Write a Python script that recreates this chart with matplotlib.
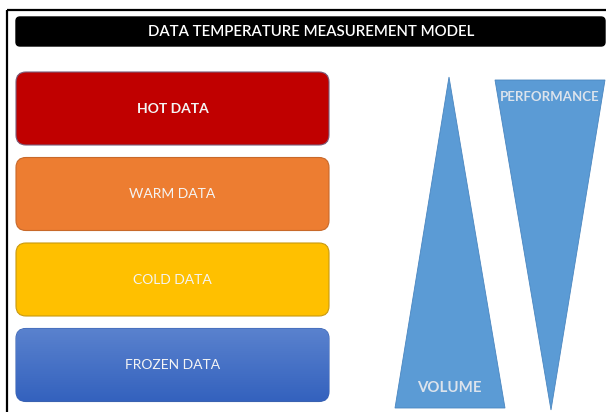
import numpy as np
import matplotlib.pyplot as plt
from matplotlib.colors import LinearSegmentedColormap
from matplotlib.patches import FancyBboxPatch, Polygon, Rectangle

# Data tiers shown on the left, top to bottom
tiers = ['HOT DATA', 'WARM DATA', 'COLD DATA', 'FROZEN DATA']
tier_colors = ['#C00000', '#ED7D31', '#FFC000', '#4472C4']
tier_edges = ['#7A5C7A', '#C8692A', '#C99A10', '#3A62B0']
tier_bold = [True, False, False, False]
title = 'DATA TEMPERATURE MEASUREMENT MODEL'
volume_label = 'VOLUME'
performance_label = 'PERFORMANCE'

plt.rcParams['font.family'] = ['Lato', 'DejaVu Sans']

fig = plt.figure(figsize=(6.06, 4.12), dpi=100)
ax = fig.add_axes([0, 0, 1, 1])
ax.set_xlim(0, 606)
ax.set_ylim(412, 0)
ax.axis('off')

# outer frame (runs off the right and bottom edges)
ax.add_patch(Rectangle((6.5, 10), 620, 420, fill=False, edgecolor='black', linewidth=1.6))

# title bar
ax.add_patch(FancyBboxPatch((18, 19), 585, 25, boxstyle='round,pad=2,rounding_size=4',
                            facecolor='black', edgecolor='black'))
ax.text(311, 31.5, title, color='white', fontsize=10.8, fontweight='semibold',
        ha='center', va='center')

# tier boxes
box_top, box_h, box_gap = 72, 73, 12.5
for i, (name, fc, ec, bold) in enumerate(zip(tiers, tier_colors, tier_edges, tier_bold)):
    y0 = box_top + i * (box_h + box_gap)
    patch = FancyBboxPatch((16, y0), 313, box_h, boxstyle='round,pad=0,rounding_size=10',
                           facecolor=fc, edgecolor=ec, linewidth=0.8)
    ax.add_patch(patch)
    if name == 'FROZEN DATA':
        # vertical gradient fill
        grad = np.linspace(0, 1, 100).reshape(-1, 1)
        cmap = LinearSegmentedColormap.from_list('fz', ['#5A82CE', '#3462BE'])
        im = ax.imshow(grad, cmap=cmap, extent=(16, 329, y0 + box_h, y0), aspect='auto', zorder=2)
        im.set_clip_path(patch)
        ax.set_xlim(0, 606)
        ax.set_ylim(412, 0)
    ax.text(172.5, y0 + box_h / 2, name, color='#F4F4F4', fontsize=10,
            fontweight='bold' if bold else 'normal', ha='center', va='center', zorder=3)

# volume (upward) and performance (downward) triangles
tri_color = '#5B9BD5'
ax.add_patch(Polygon([(449, 77), (395, 408), (505, 408)], closed=True,
                     facecolor=tri_color, edgecolor='#4A86C0', linewidth=0.6))
ax.add_patch(Polygon([(495, 80), (605, 80), (551, 410)], closed=True,
                     facecolor=tri_color, edgecolor='#4A86C0', linewidth=0.6))
ax.text(449.5, 388, volume_label, color='#DCE3EC', fontsize=10.8, fontweight='bold',
        ha='center', va='center')
ax.text(550, 97, performance_label, color='#DCE3EC', fontsize=9.5, fontweight='bold',
        ha='center', va='center')

fig.savefig('out.png', dpi=100)
